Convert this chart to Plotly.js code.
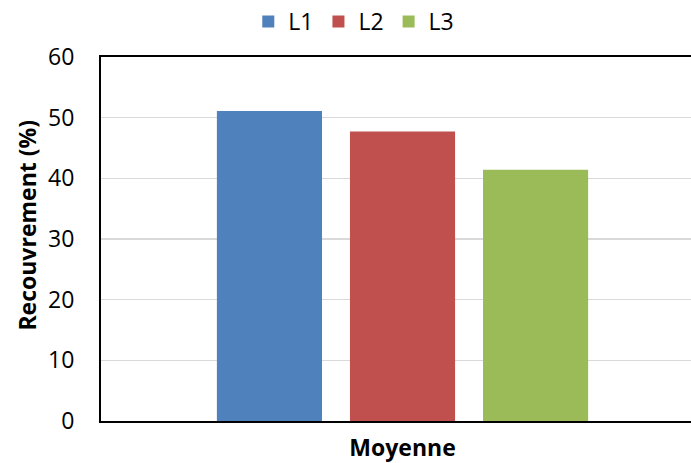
<!DOCTYPE html>
<html>
<head>
<meta charset="utf-8">
<script src="https://cdn.plot.ly/plotly-3.0.1.min.js"></script>
<style>html,body{margin:0;padding:0;background:#fff;}#chart{width:691px;height:463px;}</style>
</head>
<body>
<div id="chart"></div>
<script>
const categories = ['Moyenne'];
const seriesNames = ['L1', 'L2', 'L3'];
const valuesL1 = [51.1];
const valuesL2 = [47.7];
const valuesL3 = [41.4];
const yTicks = [0, 10, 20, 30, 40, 50, 60];
const yTitle = 'Recouvrement (%)';

const colors = ['#4F81BD', '#C0504D', '#9BBB59'];
const allValues = [valuesL1, valuesL2, valuesL3];

const traces = seriesNames.map((name, i) => ({
  type: 'bar',
  name: name,
  x: categories,
  y: allValues[i],
  marker: {color: colors[i]},
  hoverinfo: 'skip'
}));

const font = '"Open Sans", sans-serif';
const fs = 23;
const layout = {
  width: 691,
  height: 463,
  margin: {l: 101, r: 0, t: 57, b: 42, pad: 0},
  paper_bgcolor: '#fff',
  plot_bgcolor: '#fff',
  font: {family: font, size: fs, color: '#000'},
  barmode: 'group',
  bargap: 0.338,
  bargroupgap: 0.21,
  showlegend: true,
  legend: {
    orientation: 'h',
    xref: 'container', yref: 'container',
    x: 0.512, xanchor: 'center',
    y: 1, yanchor: 'top',
    font: {family: font, size: fs, color: '#000'},
    itemwidth: 30,
    tracegroupgap: 0
  },
  xaxis: {
    type: 'category',
    range: [-0.5, 0.4784],
    showline: true,
    linecolor: '#000',
    linewidth: 2,
    mirror: true,
    ticks: '',
    ticklabelstandoff: 5,
    showgrid: false,
    tickfont: {family: font, size: fs, color: '#000', weight: 'bold'},
    fixedrange: true
  },
  yaxis: {
    range: [0, 60],
    tickvals: yTicks,
    ticktext: yTicks.map(String),
    showline: true,
    linecolor: '#000',
    linewidth: 2,
    ticks: '',
    ticklabelstandoff: 20,
    showgrid: true,
    gridcolor: '#d9d9d9',
    gridwidth: 1.5,
    zeroline: false,
    tickfont: {family: font, size: fs, color: '#000'},
    fixedrange: true
  },
  annotations: [{
    text: yTitle,
    xref: 'paper', yref: 'paper',
    x: -0.127, y: 0.537,
    xanchor: 'center', yanchor: 'middle',
    textangle: -90,
    showarrow: false,
    font: {family: font, size: fs, color: '#000', weight: 'bold'}
  }]
};

Plotly.newPlot('chart', traces, layout, {displayModeBar: false, staticPlot: true});
</script>
</body>
</html>
